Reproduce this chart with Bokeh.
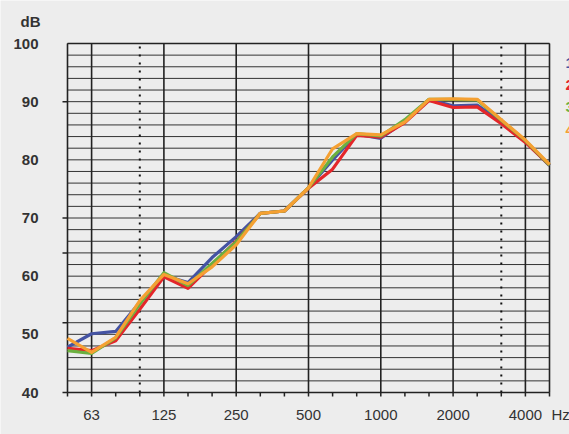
from bokeh.plotting import figure
from bokeh.models import Range1d
from bokeh.core.properties import value
from bokeh.embed import file_html
from bokeh.resources import INLINE

# third-octave bands 50 Hz .. 5000 Hz (index 0..20)
bands = ["50", "63", "80", "100", "125", "160", "200", "250", "315", "400", "500",
         "630", "800", "1000", "1250", "1600", "2000", "2500", "3150", "4000", "5000"]
octave_labels = ["63", "125", "250", "500", "1000", "2000", "4000"]
octave_idx = [1, 4, 7, 10, 13, 16, 19]
dotted_idx = [3, 18]
y_ticks = [40, 50, 60, 70, 80, 90, 100]
y_labels = ["40", "50", "60", "70", "80", "90", "100"]
y_tick_marks = [40, 52, 64, 70, 90]
y_minor = list(range(40, 101, 2))

s1 = [47.8, 50.1, 50.5, 55.5, 60.1, 58.9, 63.2, 66.8, 70.8, 71.2, 75.2, 80.0, 84.4, 83.7, 86.6, 90.3, 89.3, 89.4, 86.5, 83.2, 79.0]
s2 = [47.6, 47.2, 48.9, 54.3, 59.9, 57.9, 62.0, 66.0, 70.8, 71.2, 75.1, 78.4, 84.2, 83.9, 86.4, 90.2, 89.0, 89.1, 86.2, 83.0, 79.1]
s3 = [47.2, 46.7, 49.4, 55.2, 60.6, 58.4, 62.2, 65.9, 70.8, 71.2, 75.2, 80.5, 84.5, 84.1, 86.9, 90.4, 90.4, 90.3, 86.8, 83.3, 79.1]
s4 = [49.3, 46.9, 49.5, 55.8, 60.3, 58.7, 61.6, 65.4, 70.8, 71.2, 75.2, 81.9, 84.5, 84.3, 86.5, 90.4, 90.5, 90.4, 86.9, 83.4, 79.2]
series = [("1", s1, "#4453a3"), ("2", s2, "#e4262a"), ("3", s3, "#6cb040"), ("4", s4, "#f5a032")]
legend_y = [96.6, 92.8, 89.0, 85.2]

# ---- layout (pixels) ----
W, H = 569, 434
PL, PR, PT, PB = 67, 549, 43, 392          # plot box in canvas pixels
NB = len(bands) - 1
YMIN, YMAX = 40, 100
pxx = (PR - PL) / NB                        # px per band
pxy = (PB - PT) / (YMAX - YMIN)             # px per dB

BG = "#ededed"
FONT = value("Liberation Sans")
TXT = "#333333"
DARK = "#222222"

p = figure(width=W, height=H, output_backend="svg", toolbar_location=None,
           x_range=Range1d(-PL / pxx, (W - PL) / pxx),
           y_range=Range1d(YMIN - (H - PB) / pxy, YMAX + PT / pxy),
           x_axis_type=None, y_axis_type=None, min_border=0)
p.background_fill_color = BG
p.border_fill_color = BG
p.outline_line_color = None
p.grid.visible = False

xi = list(range(len(bands)))
x0, x1 = 0, NB

# horizontal grid every 2 dB
p.segment(x0=[x0] * len(y_minor), x1=[x1] * len(y_minor), y0=y_minor, y1=y_minor,
          line_color="#333333", line_width=1)
# vertical solid lines at octave centres and box edges
vx = [x0] + octave_idx + [x1]
p.segment(x0=vx, x1=vx, y0=[YMIN] * len(vx), y1=[YMAX] * len(vx),
          line_color=DARK, line_width=1.6)
# dotted lines
p.segment(x0=dotted_idx, x1=dotted_idx, y0=[YMIN] * len(dotted_idx), y1=[YMAX] * len(dotted_idx),
          line_color="#111111", line_width=2, line_dash="2 6")
# box top / bottom
p.segment(x0=[x0, x0], x1=[x1, x1], y0=[YMIN, YMAX], y1=[YMIN, YMAX],
          line_color=DARK, line_width=1.6)
# bottom ticks at every band
tk = 4 / pxy
p.segment(x0=xi, x1=xi, y0=[YMIN] * len(xi), y1=[YMIN - tk] * len(xi),
          line_color=DARK, line_width=1.5)
# left ticks
tl = 5 / pxx
p.segment(x0=[x0] * len(y_tick_marks), x1=[x0 - tl] * len(y_tick_marks),
          y0=y_tick_marks, y1=y_tick_marks, line_color=DARK, line_width=1.5)

# series
for name, vals, col in series:
    p.line(xi, vals, line_color=col, line_width=3.2, line_join="round")

# tick labels
p.text(x=[(38 - PL) / pxx] * len(y_ticks), y=y_ticks, text=y_labels,
       text_font=FONT, text_font_size="15px", text_font_style="bold",
       text_color=TXT, text_align="right", text_baseline="middle")
xl_y = YMIN - (414 - PB) / pxy
p.text(x=octave_idx, y=[xl_y] * len(octave_idx), text=octave_labels,
       text_font=FONT, text_font_size="15px", text_color=TXT,
       text_align="center", text_baseline="middle")
p.text(x=[(551 - PL) / pxx], y=[xl_y], text=["Hz"],
       text_font=FONT, text_font_size="15px", text_color=TXT,
       text_align="left", text_baseline="middle")
p.text(x=[(20 - PL) / pxx], y=[YMAX + (PT - 21) / pxy], text=["dB"],
       text_font=FONT, text_font_size="15px", text_font_style="bold",
       text_color=TXT, text_align="left", text_baseline="middle")
# legend digits at right edge (cut by the window edge, as in the reference)
p.text(x=[(565 - PL) / pxx] * len(series), y=legend_y, text=[s[0] for s in series],
       text_font=FONT, text_font_size="15px", text_font_style="bold",
       text_color=[s[2] for s in series], text_align="left", text_baseline="middle")

open("out.html", "w").write(file_html(p, INLINE))
